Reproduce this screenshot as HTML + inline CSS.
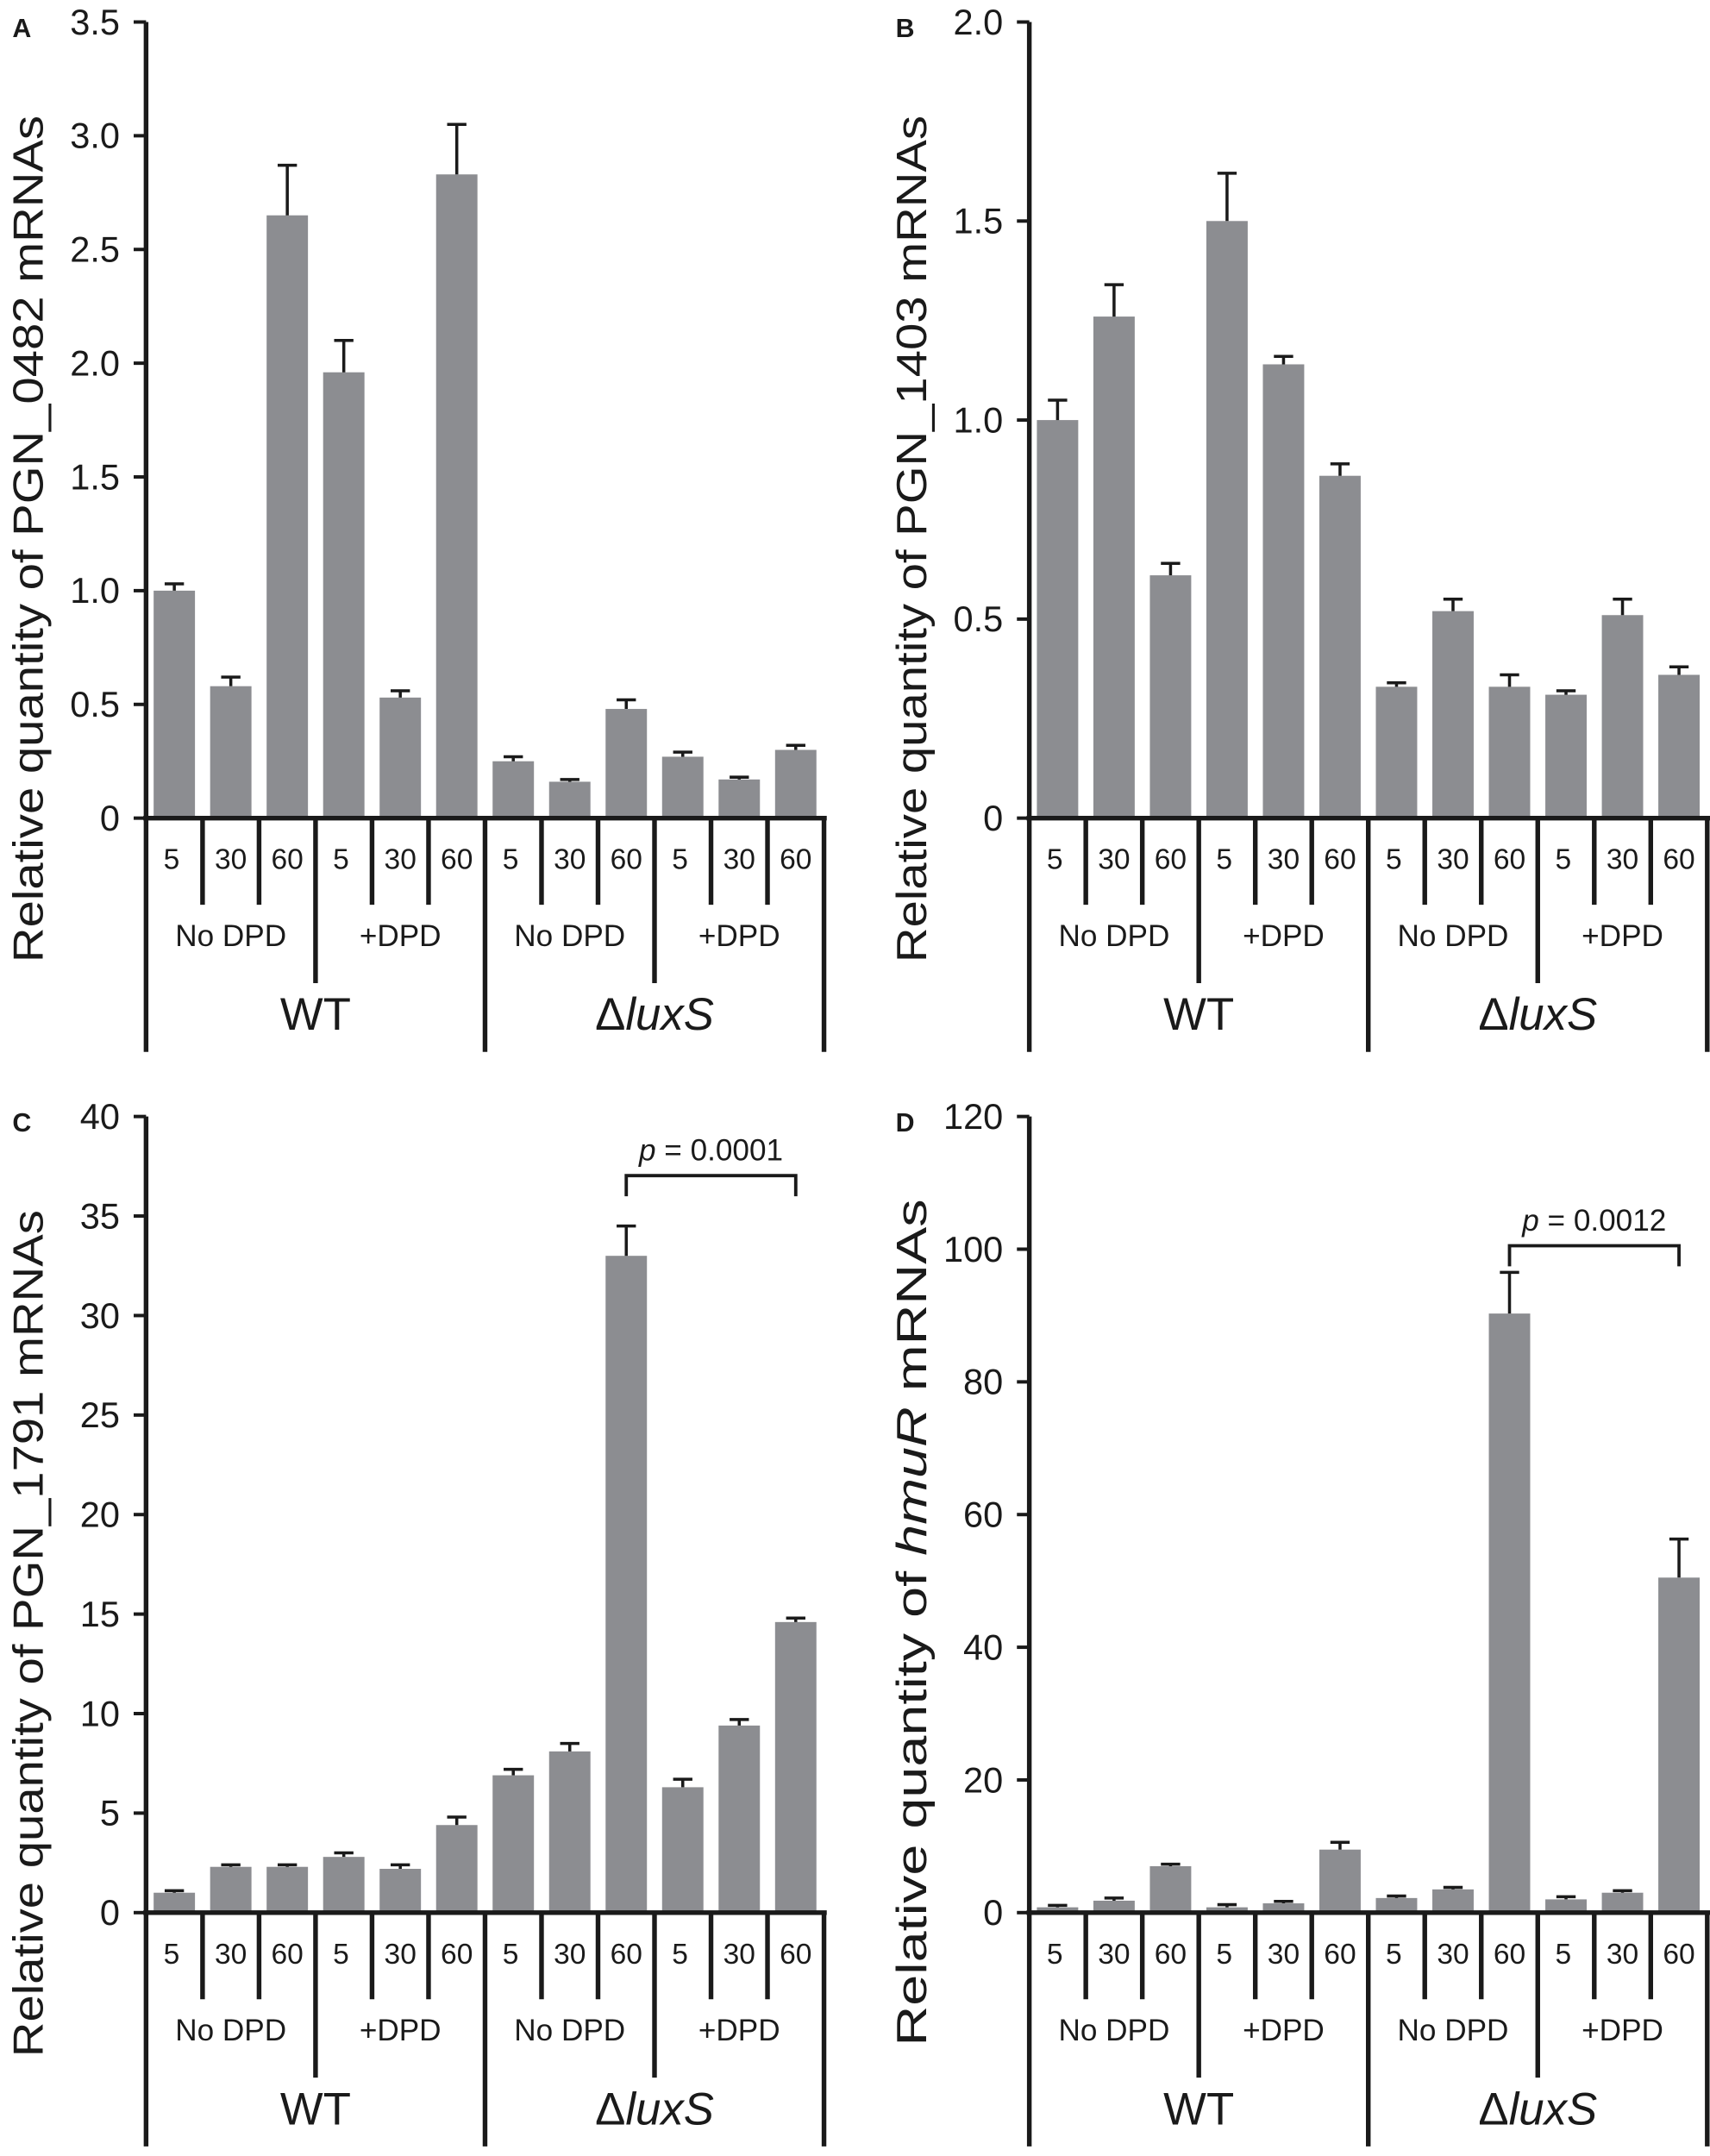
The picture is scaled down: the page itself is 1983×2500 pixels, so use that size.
<!DOCTYPE html>
<html><head><meta charset="utf-8"><style>
html,body{margin:0;padding:0;background:#fff;}
svg{display:block;}
text{font-family:"Liberation Sans",sans-serif;fill:#1a1a1a;}
</style></head><body>
<svg id="fig" width="1983" height="2500" viewBox="0 0 1241 1568" preserveAspectRatio="none"></svg>
<script>
const timeLabels=["5","30","60","5","30","60","5","30","60","5","30","60"];
const dpdLabels=["No DPD","+DPD","No DPD","+DPD"];
const strainLabels=["WT","ΔluxS"];
const valsA=[1.0,0.58,2.65,1.96,0.53,2.83,0.25,0.16,0.48,0.27,0.17,0.30];
const errA=[1.03,0.62,2.87,2.10,0.56,3.05,0.27,0.17,0.52,0.29,0.18,0.32];
const ticksA=["0","0.5","1.0","1.5","2.0","2.5","3.0","3.5"];
const valsB=[1.0,1.26,0.61,1.50,1.14,0.86,0.33,0.52,0.33,0.31,0.51,0.36];
const errB=[1.05,1.34,0.64,1.62,1.16,0.89,0.34,0.55,0.36,0.32,0.55,0.38];
const ticksB=["0","0.5","1.0","1.5","2.0"];
const valsC=[1.0,2.3,2.3,2.8,2.2,4.4,6.9,8.1,33.0,6.3,9.4,14.6];
const errC=[1.1,2.4,2.4,3.0,2.4,4.8,7.2,8.5,34.5,6.7,9.7,14.8];
const ticksC=["0","5","10","15","20","25","30","35","40"];
const valsD=[0.8,1.8,7.0,0.8,1.4,9.5,2.2,3.5,90.3,2.0,3.0,50.5];
const errD=[1.1,2.2,7.3,1.2,1.7,10.6,2.5,3.8,96.5,2.4,3.3,56.3];
const ticksD=["0","20","40","60","80","100","120"];

const NS="http://www.w3.org/2000/svg";
const svg=document.getElementById('fig');
function mk(tag,attrs,parent,txt){const e=document.createElementNS(NS,tag);for(const k in attrs)e.setAttribute(k,attrs[k]);if(txt!==undefined)e.textContent=txt;(parent||svg).appendChild(e);return e;}

function panel(o){
  const g=mk('g',{});
  
  
  const x0=o.x0,x1=o.x0+492,y0=o.y0,yt=o.yt,ymax=o.ymax;
  const ys=v=>y0-(v/ymax)*(y0-yt);
  const slot=(x1-x0)/12;
  const xc=i=>x0+slot*(i+0.5);
  const pl=mk('text',{x:o.x0-97,y:yt+11,'font-size':19,'font-weight':'bold'},g,o.id);
  
  
  const tt=mk('text',{x:0,y:0,'font-size':31,'text-anchor':'middle',textLength:616,lengthAdjust:'spacingAndGlyphs',transform:`translate(${o.x0-75},${o.titleY}) rotate(-90)`},g);
  
  
  o.title.forEach(p=>{const s=mk('tspan',{},tt,p[0]);if(p[1])s.setAttribute('font-style','italic');});
  o.ticks.forEach((t,i)=>{
    const v=parseFloat(t);const y=ys(v);
    const tl=mk('line',{x1:x0-9,x2:x0,y1:y,y2:y,stroke:'#1a1a1a','stroke-width':2.5},g);
    
    
    const tx=mk('text',{x:x0-19,y:y+9,'font-size':26,'text-anchor':'end'},g,t);
    
    
  });
  o.vals.forEach((v,i)=>{
    const b=mk('rect',{x:xc(i)-15,y:ys(v),width:30,height:y0-ys(v),fill:'#8c8d91'},g);
    
    
    const e=mk('path',{d:`M${xc(i)} ${ys(v)}V${ys(o.err[i])}M${xc(i)-7} ${ys(o.err[i])}H${xc(i)+7}`,stroke:'#1a1a1a','stroke-width':2.2,fill:'none'},g);
    
    
  });
  const ax=mk('path',{d:`M${x0} ${yt}V${y0+170}M${x0-2} ${y0}H${x1+2}M${x1} ${y0}V${y0+170}`,stroke:'#1a1a1a','stroke-width':3.4,fill:'none'},g);
  
  
  for(let i=1;i<12;i++){
    const xx=x0+slot*i;let len=63;
    if(i%3===0)len=120; if(i===6)len=170;
    const l=mk('line',{x1:xx,x2:xx,y1:y0,y2:y0+len,stroke:'#1a1a1a','stroke-width':3.4},g);
    
    
  }
  timeLabels.forEach((t,i)=>{
    const tx=mk('text',{x:xc(i)-(i%3===0?2:0),y:y0+37,'font-size':21,'text-anchor':'middle'},g,t);
    
    
  });
  dpdLabels.forEach((t,i)=>{
    const tx=mk('text',{x:x0+slot*(3*i+1.5),y:y0+93,'font-size':22,'text-anchor':'middle'},g,t);
    
    
  });
  strainLabels.forEach((t,i)=>{
    const tx=mk('text',{x:x0+slot*(6*i+3),y:y0+154,'font-size':33,'text-anchor':'middle'},g);
    
    
    if(t==='WT'){tx.textContent=t;}else{mk('tspan',{},tx,'Δ');mk('tspan',{'font-style':'italic'},tx,'luxS');}
  });
  if(o.sig){
    const a=o.sig.a,b=o.sig.b,yy=o.sig.y;
    const br=mk('path',{d:`M${xc(a)} ${yy+15}V${yy}H${xc(b)}V${yy+15}`,stroke:'#1a1a1a','stroke-width':2.4,fill:'none'},g);
    
    
    const st=mk('text',{x:(xc(a)+xc(b))/2,y:yy-11,'font-size':22,'text-anchor':'middle'},g);
    
    
    mk('tspan',{'font-style':'italic'},st,'p');mk('tspan',{},st,' = '+o.sig.t);
  }
}
panel({id:'A',x0:106,y0:595,yt:16,ymax:3.5,vals:valsA,err:errA,ticks:ticksA,titleY:392,title:[["Relative quantity of PGN_0482 mRNAs"]]});
panel({id:'B',x0:747,y0:595,yt:16,ymax:2.0,vals:valsB,err:errB,ticks:ticksB,titleY:392,title:[["Relative quantity of PGN_1403 mRNAs"]]});
panel({id:'C',x0:106,y0:1391,yt:812,ymax:40,vals:valsC,err:errC,ticks:ticksC,titleY:1188,title:[["Relative quantity of PGN_1791 mRNAs"]],sig:{a:8,b:11,y:855,t:'0.0001'}});
panel({id:'D',x0:747,y0:1391,yt:812,ymax:120,vals:valsD,err:errD,ticks:ticksD,titleY:1180,title:[["Relative quantity of "],["hmuR",1],[" mRNAs"]],sig:{a:8,b:11,y:906,t:'0.0012'}});
</script>
</body></html>
